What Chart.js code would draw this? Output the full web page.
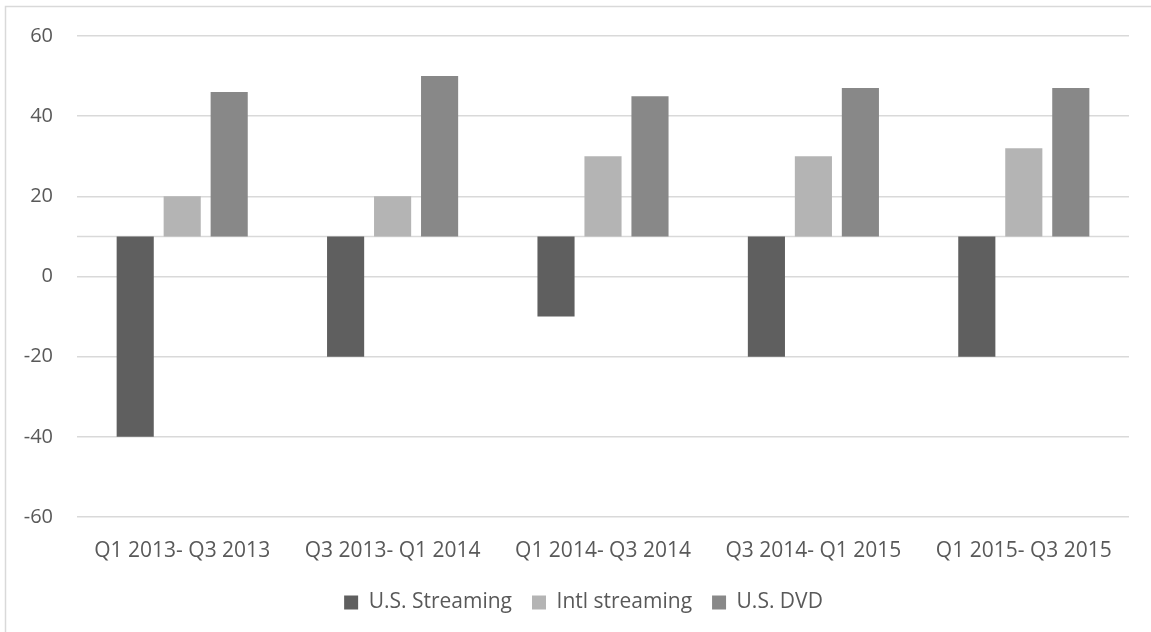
<!DOCTYPE html>
<html>
<head>
<meta charset="utf-8">
<script src="https://cdn.jsdelivr.net/npm/chart.js@4/dist/chart.umd.min.js"></script>
<style>
  html, body { margin: 0; padding: 0; background: #fff; }
  canvas { display: block; }
</style>
</head>
<body>
<canvas id="chart" width="1151" height="632"></canvas>
<script>
const categories = ['Q1 2013- Q3 2013', 'Q3 2013- Q1 2014', 'Q1 2014- Q3 2014', 'Q3 2014- Q1 2015', 'Q1 2015- Q3 2015'];
const usStreaming = [-40, -20, -10, -20, -20];
const intlStreaming = [20, 20, 30, 30, 32];
const usDvd = [46, 50, 45, 47, 47];
const yTicks = [-60, -40, -20, 0, 20, 40, 60];
const axisCross = 10;

const textColor = '#595959';
const gridColor = '#d9d9d9';

// frame around the whole chart and the horizontal axis line where bars start
const framePlugin = {
  id: 'frame',
  afterLayout(chart) {
    // excel centres the legend a bit right of the plot centre
    chart.legend.left += 16;
    chart.legend.right += 16;
  },
  beforeDraw(chart) {
    const ctx = chart.ctx;
    ctx.save();
    ctx.strokeStyle = gridColor;
    ctx.lineWidth = 1.5;
    ctx.strokeRect(5.5, 6.5, 1300, 800);
    ctx.restore();
  },
  beforeDatasetsDraw(chart) {
    const ctx = chart.ctx;
    const area = chart.chartArea;
    const y = chart.scales.y.getPixelForValue(axisCross);
    ctx.save();
    ctx.strokeStyle = gridColor;
    ctx.lineWidth = 1.5;
    ctx.beginPath();
    ctx.moveTo(area.left, y);
    ctx.lineTo(area.right, y);
    ctx.stroke();
    ctx.restore();
  }
};

const common = { base: axisCross, barPercentage: 0.79, categoryPercentage: 0.67 };

new Chart(document.getElementById('chart').getContext('2d'), {
  type: 'bar',
  data: {
    labels: categories,
    datasets: [
      Object.assign({ label: 'U.S. Streaming', data: usStreaming, backgroundColor: '#5f5f5f' }, common),
      Object.assign({ label: 'Intl streaming', data: intlStreaming, backgroundColor: '#b4b4b4' }, common),
      Object.assign({ label: 'U.S. DVD', data: usDvd, backgroundColor: '#888888' }, common)
    ]
  },
  options: {
    responsive: false,
    animation: false,
    layout: { padding: { left: 6, right: 22, top: 36, bottom: 9 } },
    plugins: {
      tooltip: { enabled: false },
      legend: {
        position: 'bottom',
        labels: {
          color: textColor,
          font: { family: 'Open Sans', size: 21 },
          boxWidth: 14,
          boxHeight: 14,
          padding: 20
        }
      }
    },
    scales: {
      x: {
        grid: { display: false, drawTicks: false },
        border: { display: false },
        ticks: { color: textColor, font: { family: 'Open Sans', size: 21 }, padding: 21, maxRotation: 0 },
        afterFit(scale) { scale.height = 55; }
      },
      y: {
        min: -60,
        max: 60,
        grid: { color: gridColor, lineWidth: 1.5, drawTicks: false },
        border: { display: false },
        afterBuildTicks(scale) { scale.ticks = yTicks.map(v => ({ value: v })); },
        ticks: { color: textColor, font: { family: 'Open Sans', size: 20 }, padding: 24 },
        afterFit(scale) { scale.width = 71; }
      }
    }
  },
  plugins: [framePlugin]
});
</script>
</body>
</html>
